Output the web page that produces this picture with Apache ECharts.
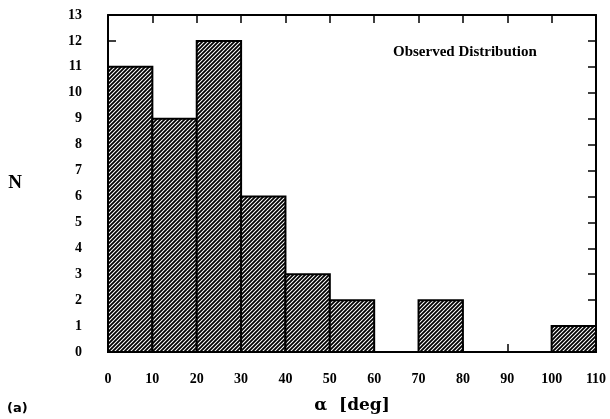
<!DOCTYPE html>
<html>
<head>
<meta charset="utf-8">
<script src="https://cdn.jsdelivr.net/npm/echarts@6/dist/echarts.min.js"></script>
<style>
  html, body { margin: 0; padding: 0; background: #fff; }
  #main { width: 610px; height: 419px; }
</style>
</head>
<body>
<div id="main"></div>
<script>
// histogram bins (deg) and counts
const binStarts = [0, 10, 20, 30, 40, 50, 60, 70, 80, 90, 100];
const binWidth = 10;
const counts = [11, 9, 12, 6, 3, 2, 0, 2, 0, 0, 1];

const font = '"Liberation Serif", "DejaVu Serif", serif';

// hatch pattern: "/" diagonal lines
function makeHatch() {
  const s = 4;
  const c = document.createElement('canvas');
  c.width = s; c.height = s;
  const g = c.getContext('2d');
  g.fillStyle = '#fff';
  g.fillRect(0, 0, s, s);
  g.strokeStyle = '#000';
  g.lineWidth = 1.8;
  g.beginPath();
  g.moveTo(-1, s + 1); g.lineTo(s + 1, -1);
  g.moveTo(-1, 1); g.lineTo(1, -1);
  g.moveTo(s - 1, s + 1); g.lineTo(s + 1, s - 1);
  g.stroke();
  return c;
}
const hatch = makeHatch();

const data = binStarts.map((b, i) => [b, b + binWidth, counts[i]]);

const chart = echarts.init(document.getElementById('main'));
const axisLine = { show: true, onZero: false, lineStyle: { color: '#000', width: 2 } };
const axisTick = { show: true, inside: true, length: 8, lineStyle: { color: '#000', width: 1.5 } };
const labelStyle = { color: '#000', fontFamily: font, fontWeight: 'bold', fontSize: 14 };

chart.setOption({
  animation: false,
  grid: { left: 108, right: 14, top: 15, bottom: 62 },
  xAxis: [
    {
      type: 'value', min: 0, max: 110, interval: 10,
      axisLine: axisLine, axisTick: axisTick,
      splitLine: { show: false },
      axisLabel: Object.assign({ margin: 20 }, labelStyle),
      name: 'α  [deg]', nameLocation: 'middle', nameGap: 45,
      nameTextStyle: { color: '#000', fontFamily: '"DejaVu Serif", serif', fontWeight: 'bold', fontSize: 17 }
    },
    {
      type: 'value', position: 'top', min: 0, max: 110, interval: 10,
      axisLine: axisLine, axisTick: axisTick,
      splitLine: { show: false }, axisLabel: { show: false }
    }
  ],
  yAxis: [
    {
      type: 'value', min: 0, max: 13, interval: 1,
      axisLine: axisLine, axisTick: axisTick,
      splitLine: { show: false },
      axisLabel: Object.assign({ margin: 26 }, labelStyle),
      name: 'N', nameLocation: 'middle', nameRotate: 0, nameGap: 86,
      nameTextStyle: { color: '#000', fontFamily: font, fontWeight: 'bold', fontSize: 19 }
    },
    {
      type: 'value', position: 'right', min: 0, max: 13, interval: 1,
      axisLine: axisLine, axisTick: axisTick,
      splitLine: { show: false }, axisLabel: { show: false }
    }
  ],
  graphic: [
    {
      type: 'text', left: 393, top: 45,
      style: { text: 'Observed Distribution', fill: '#000', font: 'bold 15px ' + font }
    },
    {
      type: 'text', left: 7, top: 402,
      style: { text: '(a)', fill: '#000', font: 'bold 13px "DejaVu Sans", sans-serif' }
    }
  ],
  series: [{
    type: 'custom',
    data: data,
    encode: { x: [0, 1], y: 2 },
    renderItem: function (params, api) {
      const v = api.value(2);
      if (!v) return null;
      const p0 = api.coord([api.value(0), 0]);
      const p1 = api.coord([api.value(1), v]);
      return {
        type: 'rect',
        shape: { x: p0[0], y: p1[1], width: p1[0] - p0[0], height: p0[1] - p1[1] },
        style: { fill: { image: hatch, repeat: 'repeat' }, stroke: '#000', lineWidth: 2 }
      };
    }
  }]
});
</script>
</body>
</html>
